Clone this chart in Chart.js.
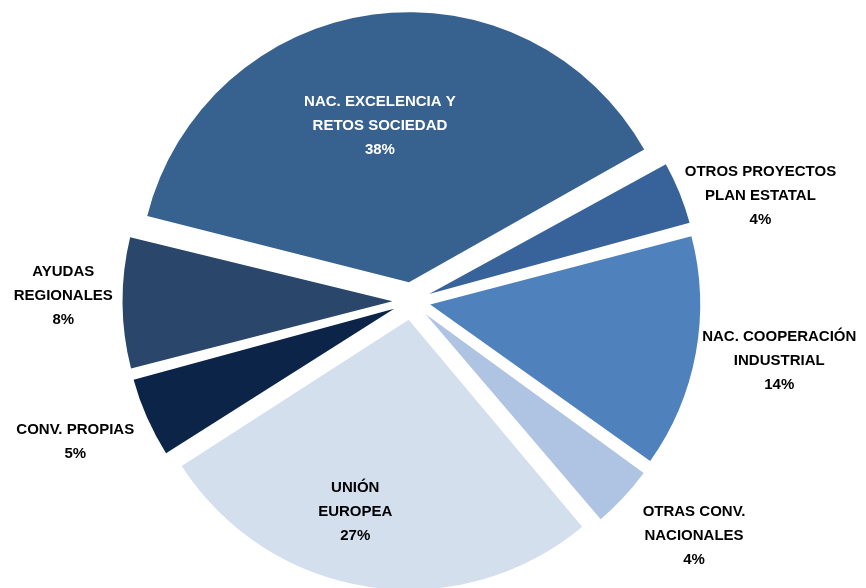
<!DOCTYPE html>
<html>
<head>
<meta charset="utf-8">
<script src="https://cdn.jsdelivr.net/npm/chart.js@4.4.1/dist/chart.umd.min.js"></script>
<style>
  html, body { margin: 0; padding: 0; background: #ffffff; }
  #wrap { width: 866px; height: 588px; position: relative; }
</style>
</head>
<body>
<div id="wrap"><canvas id="c"></canvas></div>
<script>
// ---- data ----
const categories = [
  ['NAC. EXCELENCIA Y', 'RETOS SOCIEDAD'],
  ['OTROS PROYECTOS', 'PLAN ESTATAL'],
  ['NAC. COOPERACIÓN', 'INDUSTRIAL'],
  ['OTRAS CONV.', 'NACIONALES'],
  ['UNIÓN', 'EUROPEA'],
  ['CONV. PROPIAS'],
  ['AYUDAS', 'REGIONALES']
];
const shares = [38, 4, 14, 4, 27, 5, 8];

// ---- style ----
const sliceColors = ['#37618f', '#38639a', '#4f81bd', '#aec4e2', '#d4dfee', '#0b2447', '#2a466b'];
const labelColors = ['#ffffff', '#000000', '#000000', '#000000', '#000000', '#000000', '#000000'];
const labelRadius = [0.66, 1.35, 1.38, 1.36, 0.81, 1.35, 1.29];
const labelAngleShift = [-2.6, 5.2, -1.15, -3.1, 6.3, 1.1, 1.2];
const explode = 76; // Chart.js translates arcs by offset/4

// keep every exploded slice at the same radius (Chart.js grows small exploded arcs)
const evenRadius = {
  id: 'evenRadius',
  beforeDatasetDraw(chart, args) {
    const meta = args.meta;
    const base = meta.controller.outerRadius;
    meta.data.forEach(arc => {
      const shift = (arc.options.offset || 0) / 4;
      const fix = 1 - Math.sin(Math.min(Math.PI, arc.circumference || 0));
      arc.outerRadius = base - shift * fix;
    });
  }
};

const sliceLabels = {
  id: 'sliceLabels',
  afterDatasetsDraw(chart) {
    const meta = chart.getDatasetMeta(0);
    const ctx = chart.ctx;
    const R = meta.controller.outerRadius;
    const data = chart.data.datasets[0].data;
    ctx.save();
    ctx.font = 'bold 15px "Liberation Sans", Arial, sans-serif';
    ctx.textAlign = 'center';
    ctx.textBaseline = 'middle';
    meta.data.forEach((arc, i) => {
      const mid = (arc.startAngle + arc.endAngle) / 2 + labelAngleShift[i] * Math.PI / 180;
      const r = labelRadius[i] * R;
      const cx = arc.x + Math.cos(mid) * r;
      const cy = arc.y + Math.sin(mid) * r;
      const lines = [...chart.data.labels[i], data[i] + '%'];
      const lh = 24;
      ctx.fillStyle = labelColors[i];
      lines.forEach((t, j) => {
        ctx.fillText(t, cx, cy + (j - (lines.length - 1) / 2) * lh);
      });
    });
    ctx.restore();
  }
};

new Chart(document.getElementById('c'), {
  type: 'pie',
  data: {
    labels: categories,
    datasets: [{
      data: shares,
      backgroundColor: sliceColors,
      borderWidth: 0,
      offset: explode,
      hoverOffset: explode,
      rotation: -76,
      radius: 270
    }]
  },
  options: {
    responsive: true,
    maintainAspectRatio: false,
    animation: false,
    events: [],
    layout: { padding: { left: 0, right: 43, top: 14, bottom: 0 } },
    plugins: {
      legend: { display: false },
      tooltip: { enabled: false },
      title: { display: false }
    }
  },
  plugins: [evenRadius, sliceLabels]
});
</script>
</body>
</html>
